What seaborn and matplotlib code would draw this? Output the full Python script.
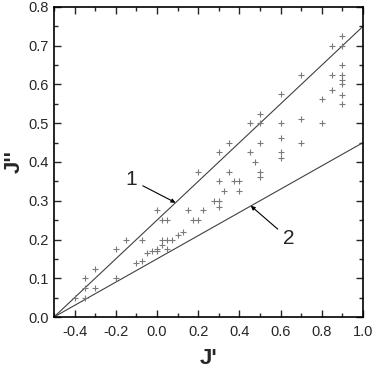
import matplotlib
matplotlib.use("Agg")
import matplotlib.pyplot as plt
from matplotlib.ticker import MultipleLocator
import seaborn as sns
import pandas as pd

# scatter data (J', J'')
j1 = [-0.4, -0.35, -0.35, -0.35, -0.3, -0.3, -0.2, -0.2, -0.15, -0.075,
      -0.1, -0.075, -0.05, -0.025, 0.0, 0.0, 0.05, 0.025, 0.025, 0.05,
      0.075, 0.1, 0.125, 0.0, 0.025, 0.05, 0.15, 0.225, 0.175, 0.2,
      0.275, 0.3, 0.3, 0.2, 0.325, 0.4, 0.3, 0.375, 0.4, 0.35,
      0.5, 0.5, 0.3, 0.45, 0.6, 0.6, 0.475, 0.35, 0.5, 0.7,
      0.6, 0.45, 0.5, 0.6, 0.8, 0.7, 0.5, 0.6, 0.8, 0.9,
      0.9, 0.85, 0.9, 0.9, 0.7, 0.85, 0.9, 0.9, 0.85, 0.9, 0.9]
j2 = [0.05, 0.075, 0.1, 0.05, 0.125, 0.075, 0.175, 0.1, 0.2, 0.2,
      0.14, 0.145, 0.165, 0.17, 0.17, 0.175, 0.175, 0.185, 0.2, 0.2,
      0.2, 0.212, 0.22, 0.275, 0.25, 0.25, 0.275, 0.275, 0.25, 0.25,
      0.3, 0.3, 0.285, 0.375, 0.325, 0.325, 0.35, 0.35, 0.35, 0.375,
      0.375, 0.362, 0.425, 0.425, 0.425, 0.41, 0.4, 0.45, 0.45, 0.45,
      0.462, 0.5, 0.5, 0.5, 0.5, 0.512, 0.525, 0.575, 0.562, 0.55,
      0.572, 0.585, 0.6, 0.612, 0.625, 0.625, 0.625, 0.65, 0.7, 0.7, 0.725]

# reference lines
line_x = [-0.5, 1.0]
line1_y = [0.0, 0.75]
line2_y = [0.0, 0.45]

xticks = [-0.4, -0.2, 0.0, 0.2, 0.4, 0.6, 0.8, 1.0]
yticks = [0.0, 0.1, 0.2, 0.3, 0.4, 0.5, 0.6, 0.7, 0.8]

sns.set_style("ticks")
plt.rcParams['font.family'] = ['Liberation Sans', 'DejaVu Sans']

fig = plt.figure(figsize=(3.74, 3.74), dpi=100)
ax = fig.add_axes([0.1444, 0.1524, 0.8262, 0.8289])

df = pd.DataFrame({"x": j1, "y": j2})
sns.scatterplot(data=df, x="x", y="y", marker="+", s=22, color="#7a7a7a",
                linewidth=0.8, ax=ax, zorder=3)

sns.lineplot(x=line_x, y=line1_y, color="#404040", linewidth=0.8, ax=ax)
sns.lineplot(x=line_x, y=line2_y, color="#404040", linewidth=0.8, ax=ax)

ax.set_xlim(-0.5, 1.0)
ax.set_ylim(0.0, 0.8)
ax.set_xticks(xticks)
ax.set_yticks(yticks)
ax.set_xticklabels([f"{v:.1f}" for v in xticks], fontsize=10.5)
ax.set_yticklabels([f"{v:.1f}" for v in yticks], fontsize=10.5)
ax.xaxis.set_minor_locator(MultipleLocator(0.1))
ax.yaxis.set_minor_locator(MultipleLocator(0.05))
ax.tick_params(which="both", direction="in", top=True, right=True, width=1.0)
ax.tick_params(axis="x", which="both", pad=6)
ax.tick_params(axis="y", which="both", pad=4)
ax.tick_params(which="major", length=5)
ax.tick_params(which="minor", length=3)
for sp in ax.spines.values():
    sp.set_linewidth(1.2)
    sp.set_color("black")

ax.set_xlabel("J'", fontsize=16, fontweight="bold", labelpad=6)
ax.set_ylabel("J''", fontsize=16, fontweight="bold", labelpad=2)

arrow = dict(arrowstyle="-|>", color="black", lw=0.8, mutation_scale=6,
             shrinkA=2, shrinkB=0)
ax.annotate("1", xy=(0.09, 0.295), xytext=(-0.125, 0.354), fontsize=15,
            ha="center", va="center", arrowprops=arrow)
ax.annotate("2", xy=(0.455, 0.287), xytext=(0.64, 0.202), fontsize=15,
            ha="center", va="center", arrowprops=arrow)

fig.savefig("out.png", dpi=100)
